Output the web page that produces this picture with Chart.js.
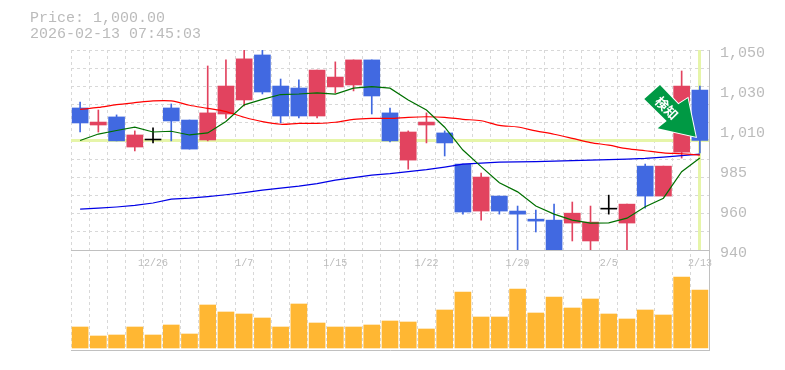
<!DOCTYPE html>
<html>
<head>
<meta charset="utf-8">
<script src="https://cdn.jsdelivr.net/npm/chart.js@4"></script>
<style>
  html, body { margin: 0; padding: 0; background: #fff; }
  canvas { display: block; }
</style>
</head>
<body>
<canvas id="chart" width="785" height="370"></canvas>
<script>
// categories: one trading day per bar, only every fifth one is labelled
var dates = ['', '', '', '', '12/26', '', '', '', '', '1/7', '', '', '', '', '1/15', '', '', '', '', '1/22',
             '', '', '', '', '1/29', '', '', '', '', '2/5', '', '', '', '', '2/13'];

var opens  = [1017.7,1008.4,1012.8,996.5,1000.3,1017.7,1011.1,1000.3,1014.4,1022.1,1047.2,1029.8,1028.7,1013.3,1029.3,1030.4,1044.4,1015.0,989.5,1008.4,
              1004.1,987.4,962.7,970.5,962.7,958.5,958.0,956.5,947.3,964.2,956.5,986.3,970.5,993.8,1027.6];
var closes = [1009.5,1010.0,999.8,1003.0,1000.8,1010.6,995.4,1015.0,1029.8,1045.0,1026.5,1013.3,1013.3,1038.7,1034.8,1044.4,1024.3,999.8,1004.6,1010.0,
              998.7,962.2,980.5,962.7,961.1,957.5,942.1,961.6,957.0,963.7,966.3,970.5,986.3,1029.8,1000.0];
var highs  = [1021.0,1016.6,1013.9,1005.2,1006.8,1019.9,1011.1,1041.0,1044.4,1050.6,1050.0,1033.7,1033.2,1038.7,1043.3,1044.4,1044.4,1017.7,1005.2,1015.0,
              1005.2,987.4,982.6,970.5,965.3,963.2,966.3,967.4,965.3,971.0,966.3,987.4,986.3,1038.2,1029.8];
var lows   = [1004.6,1004.6,999.8,994.4,998.7,999.8,995.4,999.8,1012.0,1018.8,1025.4,1009.5,1012.2,1012.2,1026.0,1027.1,1014.4,999.2,984.7,998.7,
              991.7,961.1,958.0,961.1,942.1,951.9,942.1,947.3,942.1,961.1,942.1,964.2,970.5,990.6,993.3];

var maShort = [1000.0,1003.5,1005.4,1007.2,1004.6,1005.0,1003.0,1004.1,1010.3,1019.4,1022.4,1025.1,1025.4,1026.0,1025.3,1028.6,1029.5,1028.6,1022.1,1016.6,
               1007.2,994.9,986.0,977.5,972.7,965.3,961.1,958.0,956.5,956.6,959.0,964.9,969.4,983.3,990.6];
var maMid   = [1016.9,1018.0,1019.5,1020.6,1021.6,1021.6,1019.2,1017.5,1015.7,1012.6,1010.2,1008.8,1009.3,1009.3,1009.9,1011.5,1012.0,1012.0,1012.6,1012.9,
               1012.6,1011.5,1010.7,1008.2,1007.3,1005.2,1003.4,1001.2,998.9,997.5,995.6,994.5,993.4,992.9,992.2];
var maLong  = [963.7,964.2,964.8,965.6,966.9,968.9,969.4,970.2,971.2,972.3,973.6,974.7,975.7,977.0,978.9,980.2,981.5,982.3,983.4,984.4,
               985.8,987.4,987.9,988.4,988.6,988.7,989.0,989.2,989.5,989.8,990.0,990.4,991.1,991.9,992.7];

var volumes = [2100,1200,1300,2100,1300,2300,1400,4300,3600,3400,3000,2100,4400,2500,2100,2100,2300,2700,2600,1900,
               3800,5600,3100,3100,5900,3500,5100,4000,4900,3400,2900,3800,3300,7100,5800];

var priceLabels = ['940', '960', '985', '1,010', '1,030', '1,050'];
var lastPrice = 1000;
var lastIndex = 34;
var infoLines = ['Price: 1,000.00', '2026-02-13 07:45:03'];
var badgeText = '\u691c\u77e5';

// ─────────────────────────────────────────────────────────────
//  Colours and helpers
// ─────────────────────────────────────────────────────────────
var UP = '#e2435f';
var DOWN = '#4169e1';
var DOJI = '#000000';
var TEXT = '#bbbbbb';
var FRAME = '#c0c0c0';
var MARK = '#e6f5a9';
var MONO = '"Liberation Mono", monospace';

function candleColor(i) {
  if (i === 4 || i === 29) return DOJI;
  return closes[i] >= opens[i] ? UP : DOWN;
}

var candleColors = dates.map(function (d, i) { return candleColor(i); });
var bodies = opens.map(function (o, i) { return [o, closes[i]]; });
var wicks = highs.map(function (h, i) { return [lows[i], h]; });

// ─────────────────────────────────────────────────────────────
//  Plugins: header text, price / date marker lines, frame, badge
// ─────────────────────────────────────────────────────────────
var markers = {
  id: 'markers',
  beforeDatasetsDraw: function (chart) {
    var c = chart.ctx, a = chart.scales.yPrice, x = chart.scales.x;
    // snapped to whole pixels so the 3px band stays crisp
    var y = Math.floor(a.getPixelForValue(lastPrice)) + 0.5;
    var px = Math.floor(x.getPixelForValue(lastIndex)) + 0.5;
    c.save();
    c.strokeStyle = MARK;
    c.lineWidth = 3;
    c.beginPath();
    c.moveTo(x.left, y);
    c.lineTo(x.right, y);
    c.moveTo(px, a.top);
    c.lineTo(px, a.bottom);
    c.stroke();
    c.restore();
  },
  afterDraw: function (chart) {
    var c = chart.ctx, a = chart.chartArea, p = chart.scales.yPrice;
    c.save();
    c.strokeStyle = FRAME;
    c.lineWidth = 1;
    c.beginPath();
    c.moveTo(a.left, p.bottom + 0.5);
    c.lineTo(a.right + 1, p.bottom + 0.5);
    c.moveTo(a.left, a.bottom + 0.5);
    c.lineTo(a.right + 1, a.bottom + 0.5);
    c.moveTo(a.right + 0.5, a.top);
    c.lineTo(a.right + 0.5, a.bottom);
    c.stroke();

    // header
    c.fillStyle = TEXT;
    c.font = '15px ' + MONO;
    c.textAlign = 'left';
    c.textBaseline = 'alphabetic';
    c.fillText(infoLines[0], 30, 22);
    c.fillText(infoLines[1], 30, 38);

    // sell signal arrow
    c.beginPath();
    c.moveTo(660, 85);
    c.lineTo(678.3, 104.3);
    c.lineTo(687.7, 98.3);
    c.lineTo(695.7, 136.7);
    c.lineTo(657.7, 128.3);
    c.lineTo(666.7, 121);
    c.lineTo(644.3, 99);
    c.closePath();
    c.fillStyle = '#009944';
    c.strokeStyle = '#ffffff';
    c.lineWidth = 2;
    c.stroke();
    c.fill();
    c.translate(666.7, 108);
    c.rotate(Math.PI / 4);
    c.fillStyle = '#ffffff';
    c.font = 'bold 13px "Noto Sans CJK JP"';
    c.textAlign = 'center';
    c.textBaseline = 'middle';
    c.fillText(badgeText, 0, 0);
    c.restore();
  }
};

// ─────────────────────────────────────────────────────────────
//  Chart
// ─────────────────────────────────────────────────────────────
new Chart(document.getElementById('chart'), {
  data: {
    labels: dates,
    datasets: [
      { type: 'bar', data: volumes, yAxisID: 'yVol', backgroundColor: '#ffb733',
        barThickness: 16, grouped: false, order: 5 },
      { type: 'bar', data: wicks, yAxisID: 'yPrice', backgroundColor: candleColors,
        barThickness: 1, grouped: false, order: 4 },
      { type: 'bar', data: bodies, yAxisID: 'yPrice', backgroundColor: candleColors,
        barThickness: 16, grouped: false, order: 3 },
      { type: 'line', data: maLong, yAxisID: 'yPrice', borderColor: '#0000e6', borderWidth: 1.2,
        pointRadius: 0, tension: 0, order: 2 },
      { type: 'line', data: maMid, yAxisID: 'yPrice', borderColor: '#ff0000', borderWidth: 1.2,
        pointRadius: 0, tension: 0.3, order: 1 },
      { type: 'line', data: maShort, yAxisID: 'yPrice', borderColor: '#007000', borderWidth: 1.2,
        pointRadius: 0, tension: 0, order: 0 }
    ]
  },
  options: {
    responsive: false,
    animation: false,
    devicePixelRatio: 1,
    layout: { padding: { top: 50, left: 71, right: 0, bottom: 20 } },
    plugins: { legend: { display: false }, tooltip: { enabled: false } },
    scales: {
      x: {
        position: { yVol: 9800 },
        offset: true,
        border: { display: false, dash: [3, 3] },
        grid: { offset: true, color: '#d8d8d8', drawTicks: false, tickLength: 0 },
        ticks: {
          autoSkip: false, maxRotation: 0, color: TEXT, padding: 7,
          font: { family: MONO, size: 10 }
        }
      },
      yPrice: {
        type: 'logarithmic',
        position: 'right',
        stack: 'panels',
        stackWeight: 2,
        min: 942.7,
        max: 1050,
        border: { display: false, dash: [3, 3] },
        grid: { color: '#d8d8d8', drawTicks: false, tickLength: 0 },
        afterBuildTicks: function (scale) {
          // twelve evenly spaced grid lines on the log axis
          var lo = Math.log(scale.min), hi = Math.log(scale.max), list = [];
          for (var i = 0; i <= 11; i++) list.push({ value: Math.exp(lo + (hi - lo) * i / 11) });
          scale.ticks = list;
        },
        ticks: { display: false },
        afterFit: function (scale) { scale.width = 0; }
      },
      yVol: {
        position: 'right',
        stack: 'panels',
        stackWeight: 1,
        min: -200,
        max: 9800,
        border: { display: false },
        grid: { display: false },
        ticks: { display: false },
        afterFit: function (scale) { scale.width = 0; }
      },
      yLabels: {
        position: 'right',
        min: -2.425,
        max: 5.075,
        border: { display: false },
        grid: { display: false, drawTicks: false, tickLength: 0 },
        afterBuildTicks: function (scale) {
          scale.ticks = priceLabels.map(function (t, i) { return { value: i }; });
        },
        ticks: {
          color: TEXT, padding: 11, font: { family: MONO, size: 15 },
          callback: function (v) { return priceLabels[v]; }
        },
        afterFit: function (scale) { scale.width = 76; }
      }
    }
  },
  plugins: [markers]
});
</script>
</body>
</html>
